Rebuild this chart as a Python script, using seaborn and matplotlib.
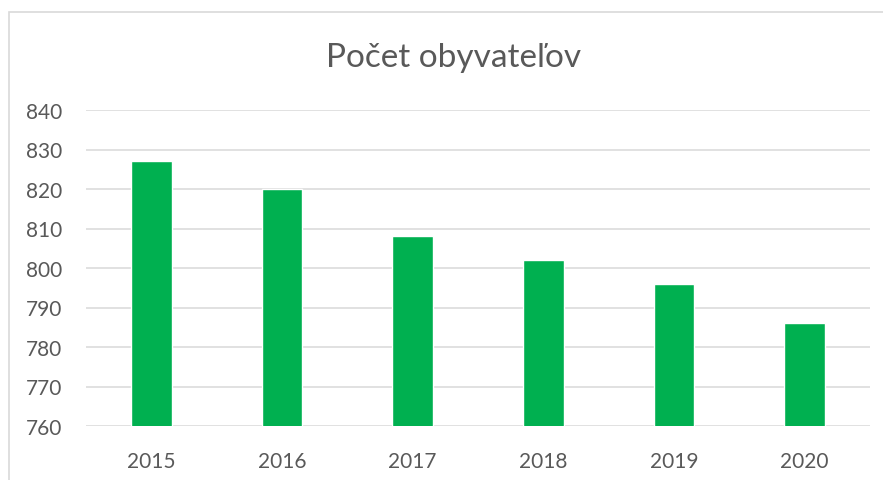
import matplotlib
matplotlib.use("Agg")
import matplotlib.pyplot as plt
import seaborn as sns
from matplotlib.patches import Rectangle

years = ["2015", "2016", "2017", "2018", "2019", "2020"]
population = [827, 820, 808, 802, 796, 786]
y_ticks = [760, 770, 780, 790, 800, 810, 820, 830, 840]

sns.set_style("white")
plt.rcParams["font.family"] = ["Lato", "DejaVu Sans"]

text_color = "#595959"
grid_color = "#d9d9d9"
bar_color = "#00b050"

fig = plt.figure(figsize=(8.83, 4.81), dpi=100)
ax = fig.add_axes([86 / 883, 1 - 427 / 481, (870 - 86) / 883, (427 - 111) / 481])

sns.barplot(x=years, y=population, color=bar_color, saturation=1, width=0.31, ax=ax, zorder=3)

ax.set_ylim(760, 840)
ax.set_xlim(-0.5, 5.5)
ax.set_yticks(y_ticks)
ax.grid(axis="y", color=grid_color, linewidth=1.1, zorder=0)
ax.set_axisbelow(True)
for s in ax.spines.values():
    s.set_visible(False)
ax.tick_params(axis="both", length=0, labelsize=15, labelcolor=text_color)
ax.tick_params(axis="y", pad=17)
ax.tick_params(axis="x", pad=18)
ax.set_xlabel("")
ax.set_ylabel("")

fig.text(454 / 883, 1 - 58 / 481, "Počet obyvateľov", ha="center", va="center",
         fontsize=24, color=text_color)

fig.patches.append(Rectangle((9 / 883, -0.1), 1.2, 1.1 - 13 / 481, transform=fig.transFigure,
                             fill=False, edgecolor=grid_color, linewidth=1.2))

fig.savefig("out.png", dpi=100)
